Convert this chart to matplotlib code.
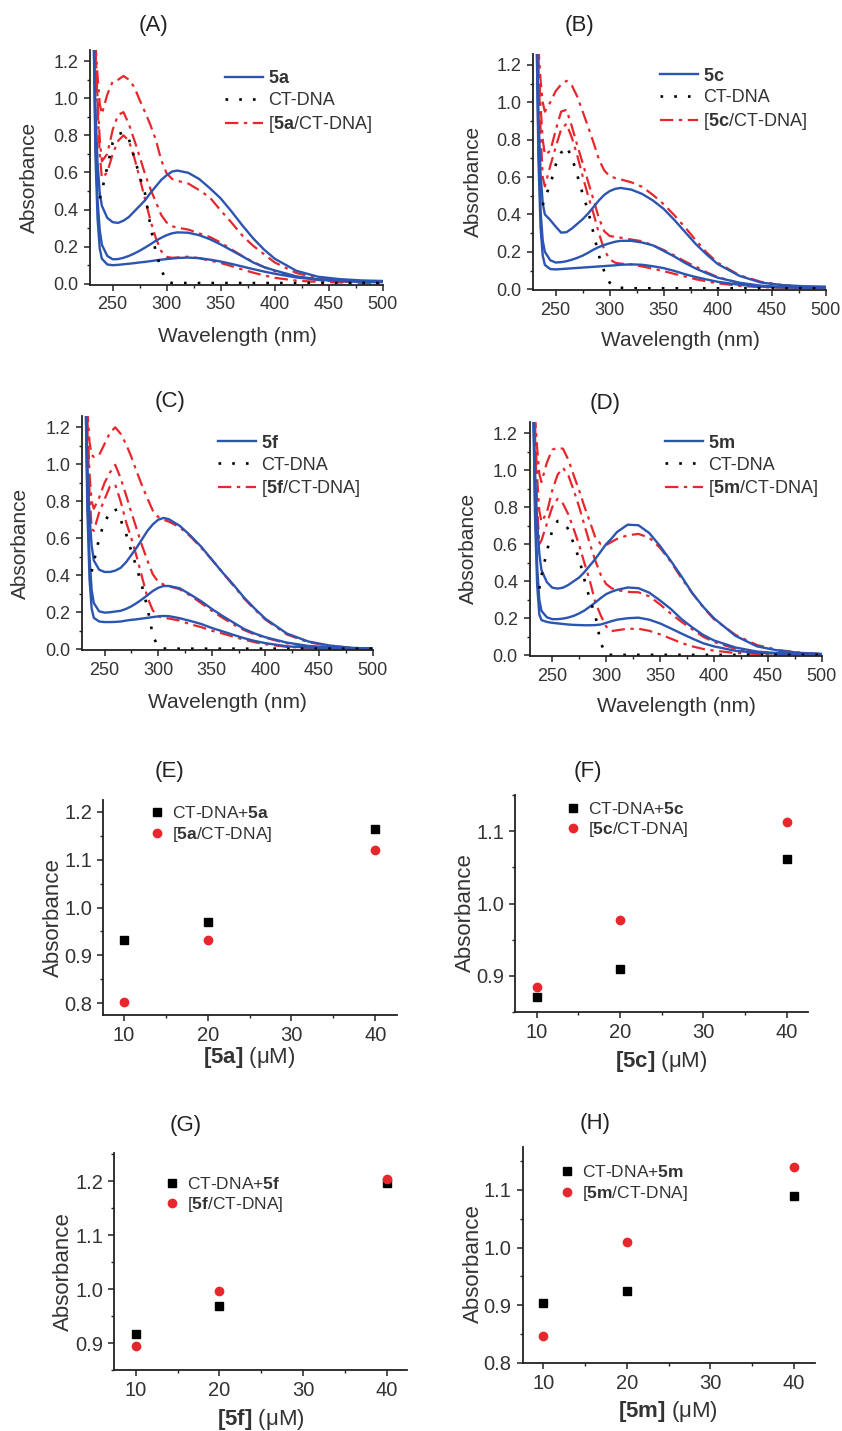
import numpy as np
import matplotlib.pyplot as plt
from matplotlib.ticker import MultipleLocator

plt.rcParams['font.family'] = ['Liberation Sans', 'DejaVu Sans']
plt.rcParams['mathtext.fontset'] = 'custom'
plt.rcParams['mathtext.rm'] = 'Liberation Sans'
plt.rcParams['mathtext.it'] = 'Liberation Sans:italic'
plt.rcParams['mathtext.bf'] = 'Liberation Sans:bold'

# wavelength grid (nm) shared by all spectra
wl = [232, 234, 236, 238, 240, 245, 250, 255, 260, 265, 270, 275, 280, 285, 290, 295,
      300, 305, 310, 320, 330, 340, 350, 360, 370, 380, 390, 400, 420, 440, 460, 480, 500]
nan = np.nan

# (A) 5a
a_cmpd_1 = [1.5, 0.95, 0.65, 0.49, 0.42, 0.355, 0.332, 0.328, 0.34, 0.36, 0.39, 0.42, 0.45, 0.49, 0.525, 0.56,
            0.585, 0.605, 0.61, 0.598, 0.565, 0.515, 0.46, 0.39, 0.315, 0.245, 0.185, 0.135, 0.07, 0.038, 0.025, 0.018, 0.015]
a_cmpd_2 = [1.5, 0.8, 0.45, 0.29, 0.21, 0.15, 0.132, 0.133, 0.14, 0.15, 0.163, 0.178, 0.195, 0.213, 0.232, 0.248,
            0.262, 0.272, 0.277, 0.275, 0.262, 0.24, 0.212, 0.18, 0.148, 0.115, 0.09, 0.072, 0.04, 0.024, 0.016, 0.012, 0.01]
a_cmpd_3 = [1.5, 0.7, 0.35, 0.19, 0.135, 0.104, 0.1, 0.102, 0.105, 0.108, 0.111, 0.115, 0.118, 0.122, 0.126, 0.13,
            0.133, 0.136, 0.139, 0.141, 0.138, 0.13, 0.12, 0.107, 0.093, 0.079, 0.066, 0.054, 0.034, 0.022, 0.015, 0.011, 0.009]
a_dna = [nan, nan, nan, 0.46, 0.5, 0.63, 0.76, 0.805, 0.817, 0.78, 0.68, 0.58, 0.485, 0.31, 0.17, 0.075,
         0.012, 0.004, 0.004, 0.004, 0.004, 0.004, 0.004, 0.004, 0.004, 0.004, 0.004, 0.004, 0.004, 0.004, 0.004, 0.004, 0.004]
a_mix_1 = [nan, 1.3, 1.12, 0.97, 0.915, 1.02, 1.09, 1.1, 1.12, 1.1, 1.06, 0.99, 0.925, 0.855, 0.775, 0.665,
           0.595, 0.565, 0.555, 0.54, 0.505, 0.465, 0.395, 0.33, 0.26, 0.205, 0.16, 0.115, 0.058, 0.03, 0.018, 0.012, 0.01]
a_mix_2 = [nan, 1.28, 1.0, 0.78, 0.66, 0.7, 0.83, 0.91, 0.925, 0.86, 0.775, 0.685, 0.59, 0.51, 0.44, 0.37,
           0.33, 0.31, 0.302, 0.292, 0.272, 0.252, 0.222, 0.185, 0.15, 0.118, 0.09, 0.068, 0.038, 0.02, 0.012, 0.009, 0.008]
a_mix_3 = [nan, 1.25, 0.95, 0.7, 0.57, 0.6, 0.7, 0.77, 0.8, 0.77, 0.68, 0.57, 0.455, 0.34, 0.245, 0.175,
           0.145, 0.14, 0.142, 0.146, 0.138, 0.125, 0.112, 0.095, 0.077, 0.06, 0.045, 0.032, 0.017, 0.01, 0.007, 0.005, 0.005]

# (B) 5c
b_cmpd_1 = [1.5, 0.95, 0.62, 0.46, 0.4, 0.37, 0.335, 0.303, 0.305, 0.325, 0.35, 0.375, 0.405, 0.44, 0.475, 0.505,
            0.525, 0.537, 0.542, 0.533, 0.51, 0.475, 0.43, 0.37, 0.305, 0.24, 0.185, 0.135, 0.072, 0.036, 0.022, 0.016, 0.014]
b_cmpd_2 = [1.5, 0.8, 0.42, 0.26, 0.2, 0.155, 0.143, 0.145, 0.15, 0.158, 0.168, 0.18, 0.195, 0.212, 0.226, 0.237,
            0.246, 0.254, 0.259, 0.259, 0.25, 0.235, 0.205, 0.175, 0.14, 0.11, 0.085, 0.062, 0.035, 0.019, 0.012, 0.01, 0.01]
b_cmpd_3 = [1.5, 0.7, 0.33, 0.18, 0.13, 0.108, 0.106, 0.108, 0.11, 0.112, 0.114, 0.116, 0.118, 0.12, 0.122, 0.124,
            0.126, 0.128, 0.131, 0.133, 0.131, 0.123, 0.113, 0.098, 0.08, 0.065, 0.052, 0.04, 0.024, 0.014, 0.01, 0.008, 0.008]
b_dna = [nan, nan, nan, 0.45, 0.49, 0.56, 0.665, 0.73, 0.764, 0.705, 0.61, 0.51, 0.42, 0.3, 0.18, 0.095,
         0.035, 0.015, 0.008, 0.005, 0.005, 0.005, 0.005, 0.005, 0.005, 0.005, 0.005, 0.005, 0.005, 0.005, 0.005, 0.005, 0.005]
b_mix_1 = [nan, 1.3, 1.12, 1.0, 0.95, 1.0, 1.06, 1.095, 1.115, 1.09, 1.03, 0.95, 0.87, 0.785, 0.695, 0.635,
           0.605, 0.595, 0.588, 0.572, 0.548, 0.505, 0.455, 0.395, 0.33, 0.26, 0.195, 0.142, 0.075, 0.04, 0.022, 0.014, 0.01]
b_mix_2 = [nan, 1.25, 0.98, 0.8, 0.72, 0.74, 0.85, 0.95, 0.96, 0.87, 0.77, 0.675, 0.575, 0.48, 0.38, 0.31,
           0.285, 0.28, 0.276, 0.266, 0.257, 0.235, 0.21, 0.18, 0.148, 0.12, 0.09, 0.065, 0.033, 0.016, 0.01, 0.008, 0.007]
b_mix_3 = [nan, 1.2, 0.85, 0.6, 0.55, 0.66, 0.76, 0.855, 0.885, 0.81, 0.715, 0.605, 0.5, 0.405, 0.3, 0.21,
           0.16, 0.142, 0.137, 0.133, 0.122, 0.11, 0.097, 0.082, 0.068, 0.053, 0.042, 0.032, 0.018, 0.011, 0.008, 0.006, 0.006]

# (C) 5f
c_cmpd_1 = [1.5, 1.0, 0.72, 0.56, 0.48, 0.43, 0.418, 0.418, 0.425, 0.44, 0.47, 0.51, 0.55, 0.595, 0.64, 0.675,
            0.7, 0.71, 0.703, 0.668, 0.615, 0.555, 0.485, 0.415, 0.35, 0.28, 0.22, 0.165, 0.085, 0.042, 0.02, 0.008, 0.003]
c_cmpd_2 = [1.5, 0.85, 0.5, 0.32, 0.25, 0.205, 0.198, 0.2, 0.204, 0.208, 0.218, 0.232, 0.25, 0.27, 0.292, 0.315,
            0.332, 0.342, 0.342, 0.33, 0.296, 0.26, 0.218, 0.18, 0.145, 0.11, 0.085, 0.065, 0.036, 0.018, 0.01, 0.005, 0.003]
c_cmpd_3 = [1.5, 0.75, 0.38, 0.22, 0.17, 0.15, 0.147, 0.147, 0.148, 0.15, 0.155, 0.159, 0.162, 0.166, 0.17, 0.174,
            0.178, 0.18, 0.179, 0.168, 0.153, 0.137, 0.115, 0.097, 0.078, 0.06, 0.045, 0.033, 0.016, 0.009, 0.005, 0.004, 0.003]
c_dna = [nan, nan, nan, 0.42, 0.47, 0.6, 0.69, 0.735, 0.76, 0.7, 0.625, 0.53, 0.44, 0.34, 0.225, 0.075,
         0.012, 0.004, 0.003, 0.003, 0.003, 0.003, 0.003, 0.003, 0.003, 0.003, 0.003, 0.003, 0.003, 0.003, 0.003, 0.003, 0.003]
c_mix_1 = [nan, 1.3, 1.12, 1.05, 1.04, 1.05, 1.11, 1.17, 1.2, 1.165, 1.11, 1.04, 0.96, 0.885, 0.815, 0.75,
           0.715, 0.7, 0.69, 0.66, 0.61, 0.55, 0.485, 0.415, 0.345, 0.275, 0.215, 0.16, 0.08, 0.038, 0.018, 0.008, 0.003]
c_mix_2 = [nan, 1.25, 0.95, 0.8, 0.76, 0.82, 0.9, 0.955, 0.997, 0.925, 0.835, 0.74, 0.65, 0.56, 0.48, 0.405,
           0.365, 0.35, 0.34, 0.325, 0.29, 0.25, 0.208, 0.17, 0.135, 0.104, 0.08, 0.062, 0.032, 0.016, 0.008, 0.004, 0.003]
c_mix_3 = [nan, 1.2, 0.85, 0.65, 0.64, 0.74, 0.81, 0.88, 0.89, 0.8, 0.69, 0.6, 0.5, 0.39, 0.28, 0.21,
           0.178, 0.17, 0.166, 0.155, 0.135, 0.12, 0.1, 0.085, 0.068, 0.052, 0.038, 0.027, 0.013, 0.007, 0.004, 0.003, 0.003]

# (D) 5m
d_cmpd_1 = [1.5, 1.0, 0.72, 0.55, 0.46, 0.395, 0.365, 0.36, 0.365, 0.38, 0.4, 0.42, 0.45, 0.485, 0.52, 0.56,
            0.6, 0.63, 0.665, 0.705, 0.702, 0.66, 0.59, 0.51, 0.425, 0.335, 0.262, 0.2, 0.105, 0.048, 0.025, 0.013, 0.007]
d_cmpd_2 = [1.5, 0.85, 0.48, 0.3, 0.24, 0.205, 0.195, 0.195, 0.198, 0.204, 0.213, 0.226, 0.242, 0.263, 0.285, 0.309,
            0.33, 0.343, 0.353, 0.366, 0.362, 0.338, 0.296, 0.25, 0.195, 0.15, 0.11, 0.08, 0.042, 0.02, 0.011, 0.008, 0.006]
d_cmpd_3 = [1.5, 0.75, 0.38, 0.22, 0.19, 0.18, 0.175, 0.172, 0.169, 0.166, 0.164, 0.163, 0.162, 0.162, 0.163, 0.166,
            0.175, 0.184, 0.192, 0.2, 0.203, 0.192, 0.172, 0.145, 0.117, 0.09, 0.065, 0.048, 0.024, 0.013, 0.009, 0.007, 0.006]
d_dna = [nan, nan, nan, 0.36, 0.43, 0.56, 0.675, 0.725, 0.72, 0.68, 0.6, 0.52, 0.405, 0.3, 0.215, 0.065,
         0.005, 0.002, 0.002, 0.002, 0.002, 0.002, 0.002, 0.002, 0.002, 0.002, 0.002, 0.002, 0.002, 0.002, 0.002, 0.002, 0.002]
d_mix_1 = [nan, 1.3, 1.12, 0.98, 0.935, 1.04, 1.11, 1.12, 1.115, 1.055, 0.97, 0.89, 0.8, 0.72, 0.635, 0.6,
           0.595, 0.612, 0.628, 0.648, 0.655, 0.635, 0.58, 0.505, 0.415, 0.335, 0.26, 0.195, 0.11, 0.055, 0.028, 0.014, 0.007]
d_mix_2 = [nan, 1.25, 0.96, 0.78, 0.72, 0.77, 0.89, 0.975, 1.012, 0.97, 0.89, 0.8, 0.7, 0.6, 0.51, 0.435,
           0.385, 0.362, 0.352, 0.342, 0.34, 0.318, 0.275, 0.225, 0.18, 0.14, 0.1, 0.072, 0.035, 0.016, 0.009, 0.006, 0.005]
d_mix_3 = [nan, 1.2, 0.8, 0.6, 0.62, 0.71, 0.8, 0.845, 0.818, 0.76, 0.68, 0.595, 0.495, 0.4, 0.285, 0.215,
           0.155, 0.13, 0.135, 0.143, 0.143, 0.132, 0.113, 0.09, 0.066, 0.048, 0.034, 0.025, 0.012, 0.007, 0.005, 0.005, 0.005]

# absorbance vs. concentration (uM)
conc = [10, 20, 40]
e_dna_cmpd = [0.932, 0.969, 1.165]
e_complex = [0.803, 0.931, 1.121]
f_dna_cmpd = [0.871, 0.910, 1.061]
f_complex = [0.884, 0.977, 1.113]
g_dna_cmpd = [0.917, 0.969, 1.196]
g_complex = [0.894, 0.996, 1.203]
h_dna_cmpd = [0.904, 0.925, 1.089]
h_complex = [0.846, 1.010, 1.139]

BLUE = '#2b55b0'
RED = '#e8272d'
W, H = 842, 1431

fig = plt.figure(figsize=(W / 100, H / 100), dpi=100)


def px_axes(left, top, right, bottom):
    return fig.add_axes([left / W, 1 - bottom / H, (right - left) / W, (bottom - top) / H])


def fig_xy(x, y):
    return x / W, 1 - y / H


def style_axes(ax, labelsize, pad):
    for s in ('top', 'right'):
        ax.spines[s].set_visible(False)
    for s in ('left', 'bottom'):
        ax.spines[s].set_linewidth(1.3)
        ax.spines[s].set_color('#222222')
    ax.tick_params(which='major', direction='out', length=4, width=1.1, labelsize=labelsize,
                   pad=pad, colors='#222222', labelcolor='#333333')
    ax.tick_params(which='minor', direction='out', length=2.5, width=1.0, colors='#222222')


def spectra_panel(rect, cmpd, dna, mixes, name, ylab_xy, xlab_xy, leg_xy):
    ax = px_axes(*rect)
    for y in mixes:
        mix_line, = ax.plot(wl, y, color=RED, lw=1.6, ls=(0, (6, 2.5, 1.5, 2.5)))
    for y in cmpd:
        cmpd_line, = ax.plot(wl, y, color=BLUE, lw=1.7)
    dna_line, = ax.plot(wl, dna, color='black', lw=1.9, ls=(0, (1, 4.2)))
    ax.set_xlim(229, 500)
    ax.set_ylim(-0.004, 1.26)
    ax.xaxis.set_major_locator(MultipleLocator(50))
    ax.xaxis.set_minor_locator(MultipleLocator(25))
    ax.yaxis.set_major_locator(MultipleLocator(0.2))
    ax.yaxis.set_minor_locator(MultipleLocator(0.1))
    style_axes(ax, 13, 4.5)
    ax.legend([cmpd_line, dna_line, mix_line],
              [r'$\mathbf{%s}$' % name, 'CT-DNA', r'[$\mathbf{%s}$/CT-DNA]' % name],
              loc='center left', bbox_to_anchor=fig_xy(*leg_xy), bbox_transform=fig.transFigure,
              frameon=False, borderpad=0, borderaxespad=0, fontsize=13, handlelength=2.1,
              handletextpad=0.3, labelspacing=0.27, labelcolor='#333333')
    fig.text(*fig_xy(*ylab_xy), 'Absorbance', rotation=90, ha='center', va='center', fontsize=15, color='#333333')
    fig.text(*fig_xy(*xlab_xy), 'Wavelength (nm)', ha='center', va='center', fontsize=15, color='#333333')
    return ax


def binding_panel(rect, xlim, ylim, dna_cmpd, complex_, name, ylab_xy, xlab_xy, leg_xy):
    ax = px_axes(*rect)
    sq, = ax.plot(conc, dna_cmpd, ls='none', marker='s', ms=5.5, color='black')
    ci, = ax.plot(conc, complex_, ls='none', marker='o', ms=6, color=RED, mec=RED)
    ax.set_xlim(*xlim)
    ax.set_ylim(*ylim)
    ax.xaxis.set_major_locator(MultipleLocator(10))
    ax.xaxis.set_minor_locator(MultipleLocator(5))
    ax.yaxis.set_major_locator(MultipleLocator(0.1))
    ax.yaxis.set_minor_locator(MultipleLocator(0.05))
    style_axes(ax, 14.5, 4)
    ax.legend([sq, ci], [r'CT-DNA+$\mathbf{%s}$' % name, r'[$\mathbf{%s}$/CT-DNA]' % name],
              loc='center left', bbox_to_anchor=fig_xy(*leg_xy), bbox_transform=fig.transFigure,
              frameon=False, borderpad=0, borderaxespad=0, fontsize=12.5, handlelength=0.8,
              handletextpad=0.45, labelspacing=0.22, numpoints=1, labelcolor='#333333')
    fig.text(*fig_xy(*ylab_xy), 'Absorbance', rotation=90, ha='center', va='center', fontsize=16, color='#333333')
    fig.text(*fig_xy(*xlab_xy), r'$\mathbf{[%s]}$ (μM)' % name, ha='center', va='center',
             fontsize=16, color='#333333')
    return ax


spectra_panel((90, 50, 382.7, 284.5), [a_cmpd_1, a_cmpd_2, a_cmpd_3], a_dna, [a_mix_1, a_mix_2, a_mix_3],
              '5a', (29.5, 177), (237, 336), (225, 102.5))
spectra_panel((533, 53.7, 825.7, 290), [b_cmpd_1, b_cmpd_2, b_cmpd_3], b_dna, [b_mix_1, b_mix_2, b_mix_3],
              '5c', (473, 181), (680, 341), (660, 100))
spectra_panel((82, 416.2, 372.7, 650), [c_cmpd_1, c_cmpd_2, c_cmpd_3], c_dna, [c_mix_1, c_mix_2, c_mix_3],
              '5f', (20, 543), (227, 702), (218, 467))
spectra_panel((529.6, 421.9, 821.7, 656), [d_cmpd_1, d_cmpd_2, d_cmpd_3], d_dna, [d_mix_1, d_mix_2, d_mix_3],
              '5m', (468, 548), (676, 706), (665, 467))

binding_panel((103, 800, 397, 1015), (7.5, 42.6), (0.775, 1.225), e_dna_cmpd, e_complex, '5a',
              (53, 918), (249, 1057), (150, 824.5))
binding_panel((515, 795, 808, 1012), (7.4, 42.56), (0.85, 1.15), f_dna_cmpd, f_complex, '5c',
              (465, 913), (661, 1062), (566, 820))
binding_panel((114, 1153, 407, 1370), (7.4, 42.4), (0.85, 1.252), g_dna_cmpd, g_complex, '5f',
              (63, 1272), (261, 1419), (165, 1195))
binding_panel((522.7, 1146.7, 815, 1362.7), (7.54, 42.5), (0.8, 1.175), h_dna_cmpd, h_complex, '5m',
              (473, 1264), (668, 1412), (560, 1183.5))

# panel letters
for txt, x, y in [('(A)', 153, 25), ('(B)', 579, 26), ('(C)', 170, 402), ('(D)', 605, 403),
                  ('(E)', 170, 772), ('(F)', 588, 772), ('(G)', 186, 1125), ('(H)', 595, 1124)]:
    fig.text(*fig_xy(x, y), txt, ha='center', va='center', fontsize=16, color='#222222')

fig.savefig('out.png', dpi=100)
